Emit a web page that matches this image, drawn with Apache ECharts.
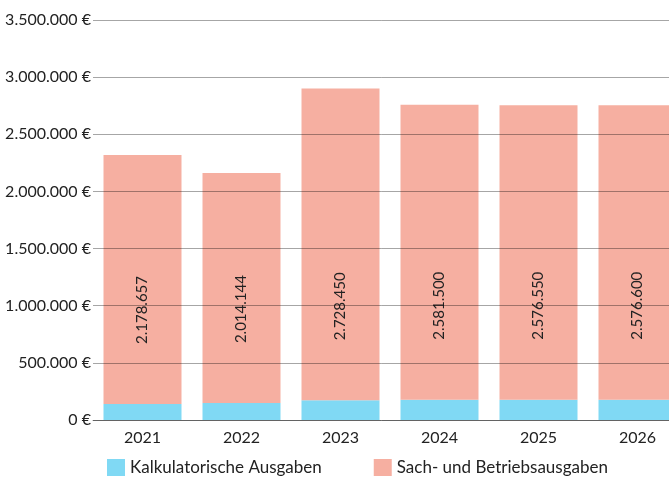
<!DOCTYPE html>
<html>
<head>
<meta charset="utf-8">
<script src="https://cdn.jsdelivr.net/npm/echarts@6/dist/echarts.min.js"></script>
<style>
  html, body { margin: 0; padding: 0; background: #fff; }
  #chart { width: 669px; height: 484px; }
</style>
</head>
<body>
<div id="chart"></div>
<script>
const years = ["2021", "2022", "2023", "2024", "2025", "2026"];
const kalkulatorisch = [140000, 148000, 172000, 178000, 178000, 178000];
const sachBetrieb = [2178657, 2014144, 2728450, 2581500, 2576550, 2576600];

const fontFamily = "Lato, 'Open Sans', sans-serif";

function dots(v) {
  return v.toString().replace(/\B(?=(\d{3})+(?!\d))/g, ".");
}
function euro(v) {
  return dots(v) + " €";
}

const chart = echarts.init(document.getElementById("chart"));
chart.setOption({
  animation: false,
  textStyle: { fontFamily: fontFamily },
  legend: {
    left: 102,
    bottom: 3,
    icon: "rect",
    itemWidth: 18,
    itemHeight: 17,
    itemGap: 52,
    textStyle: { fontSize: 17, color: "#222", fontFamily: fontFamily },
    data: ["Kalkulatorische Ausgaben", "Sach- und Betriebsausgaben"],
  },
  grid: {
    top: 20,
    left: 93,
    width: 594,
    bottom: 64,
    outerBoundsMode: "none",
  },
  xAxis: {
    type: "category",
    data: years,
    axisTick: { show: false },
    axisLine: { lineStyle: { color: "#999" } },
    axisLabel: { fontSize: 16, color: "#222", margin: 10 },
  },
  yAxis: {
    type: "value",
    min: 0,
    max: 3500000,
    interval: 500000,
    z: 5,
    axisLabel: {
      fontSize: 16,
      color: "#222",
      margin: 2,
      formatter: euro,
    },
    splitLine: { lineStyle: { color: "rgba(0,0,0,0.35)", width: 1 } },
  },
  series: [
    {
      name: "Kalkulatorische Ausgaben",
      type: "bar",
      stack: "total",
      barWidth: 78,
      itemStyle: { color: "#80d9f4" },
      data: kalkulatorisch,
    },
    {
      name: "Sach- und Betriebsausgaben",
      type: "bar",
      stack: "total",
      barWidth: 78,
      itemStyle: { color: "#f6afa1" },
      label: {
        show: true,
        position: "insideBottom",
        distance: 60,
        rotate: 90,
        align: "left",
        verticalAlign: "middle",
        fontSize: 15,
        color: "#222",
        formatter: (p) => dots(p.value),
      },
      data: sachBetrieb,
    },
  ],
});
</script>
</body>
</html>
